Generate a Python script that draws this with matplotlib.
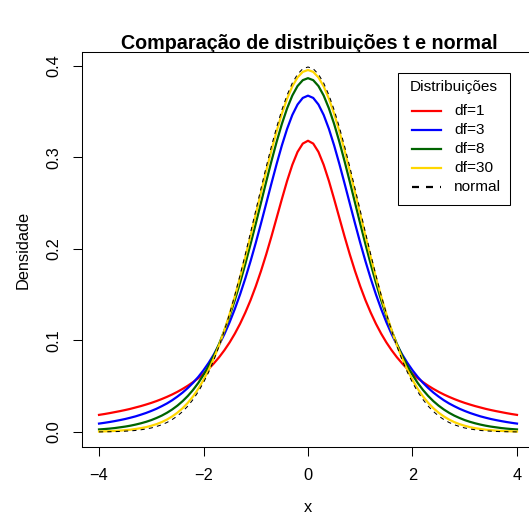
import matplotlib
matplotlib.use("Agg")
import matplotlib.pyplot as plt
from matplotlib.lines import Line2D
from matplotlib.patches import Rectangle

# x grid (-4 .. 4, step 0.1)
x = [-4.0, -3.9, -3.8, -3.7, -3.6, -3.5, -3.4, -3.3, -3.2, -3.1,
     -3.0, -2.9, -2.8, -2.7, -2.6, -2.5, -2.4, -2.3, -2.2, -2.1,
     -2.0, -1.9, -1.8, -1.7, -1.6, -1.5, -1.4, -1.3, -1.2, -1.1,
     -1.0, -0.9, -0.8, -0.7, -0.6, -0.5, -0.4, -0.3, -0.2, -0.1,
     0.0,
     0.1, 0.2, 0.3, 0.4, 0.5, 0.6, 0.7, 0.8, 0.9, 1.0,
     1.1, 1.2, 1.3, 1.4, 1.5, 1.6, 1.7, 1.8, 1.9, 2.0,
     2.1, 2.2, 2.3, 2.4, 2.5, 2.6, 2.7, 2.8, 2.9, 3.0,
     3.1, 3.2, 3.3, 3.4, 3.5, 3.6, 3.7, 3.8, 3.9, 4.0]

df1 = [0.0187, 0.0196, 0.0206, 0.0217, 0.0228, 0.0240, 0.0253, 0.0268, 0.0283, 0.0300,
       0.0318, 0.0338, 0.0360, 0.0384, 0.0410, 0.0439, 0.0471, 0.0506, 0.0545, 0.0588,
       0.0637, 0.0690, 0.0751, 0.0818, 0.0894, 0.0979, 0.1075, 0.1183, 0.1305, 0.1440,
       0.1592, 0.1759, 0.1941, 0.2136, 0.2341, 0.2546, 0.2744, 0.2920, 0.3061, 0.3152,
       0.3183,
       0.3152, 0.3061, 0.2920, 0.2744, 0.2546, 0.2341, 0.2136, 0.1941, 0.1759, 0.1592,
       0.1440, 0.1305, 0.1183, 0.1075, 0.0979, 0.0894, 0.0818, 0.0751, 0.0690, 0.0637,
       0.0588, 0.0545, 0.0506, 0.0471, 0.0439, 0.0410, 0.0384, 0.0360, 0.0338, 0.0318,
       0.0300, 0.0283, 0.0268, 0.0253, 0.0240, 0.0228, 0.0217, 0.0206, 0.0196, 0.0187]

df3 = [0.0092, 0.0100, 0.0109, 0.0119, 0.0130, 0.0142, 0.0156, 0.0171, 0.0189, 0.0208,
       0.0230, 0.0254, 0.0282, 0.0312, 0.0347, 0.0387, 0.0431, 0.0481, 0.0538, 0.0602,
       0.0675, 0.0757, 0.0850, 0.0954, 0.1070, 0.1200, 0.1345, 0.1504, 0.1678, 0.1866,
       0.2067, 0.2279, 0.2497, 0.2716, 0.2930, 0.3132, 0.3313, 0.3465, 0.3579, 0.3651,
       0.3676,
       0.3651, 0.3579, 0.3465, 0.3313, 0.3132, 0.2930, 0.2716, 0.2497, 0.2279, 0.2067,
       0.1866, 0.1678, 0.1504, 0.1345, 0.1200, 0.1070, 0.0954, 0.0850, 0.0757, 0.0675,
       0.0602, 0.0538, 0.0481, 0.0431, 0.0387, 0.0347, 0.0312, 0.0282, 0.0254, 0.0230,
       0.0208, 0.0189, 0.0171, 0.0156, 0.0142, 0.0130, 0.0119, 0.0109, 0.0100, 0.0092]

df8 = [0.0028, 0.0032, 0.0037, 0.0043, 0.0051, 0.0059, 0.0069, 0.0081, 0.0095, 0.0111,
       0.0130, 0.0153, 0.0179, 0.0210, 0.0246, 0.0288, 0.0337, 0.0394, 0.0460, 0.0536,
       0.0624, 0.0724, 0.0837, 0.0965, 0.1109, 0.1268, 0.1442, 0.1632, 0.1836, 0.2052,
       0.2276, 0.2505, 0.2735, 0.2959, 0.3172, 0.3367, 0.3537, 0.3677, 0.3781, 0.3845,
       0.3867,
       0.3845, 0.3781, 0.3677, 0.3537, 0.3367, 0.3172, 0.2959, 0.2735, 0.2505, 0.2276,
       0.2052, 0.1836, 0.1632, 0.1442, 0.1268, 0.1109, 0.0965, 0.0837, 0.0724, 0.0624,
       0.0536, 0.0460, 0.0394, 0.0337, 0.0288, 0.0246, 0.0210, 0.0179, 0.0153, 0.0130,
       0.0111, 0.0095, 0.0081, 0.0069, 0.0059, 0.0051, 0.0043, 0.0037, 0.0032, 0.0028]

df30 = [0.0005, 0.0007, 0.0009, 0.0012, 0.0015, 0.0020, 0.0025, 0.0033, 0.0042, 0.0053,
        0.0068, 0.0086, 0.0108, 0.0136, 0.0170, 0.0211, 0.0260, 0.0319, 0.0389, 0.0472,
        0.0569, 0.0680, 0.0807, 0.0951, 0.1112, 0.1290, 0.1483, 0.1692, 0.1913, 0.2143,
        0.2380, 0.2618, 0.2852, 0.3078, 0.3288, 0.3479, 0.3643, 0.3777, 0.3875, 0.3936,
        0.3956,
        0.3936, 0.3875, 0.3777, 0.3643, 0.3479, 0.3288, 0.3078, 0.2852, 0.2618, 0.2380,
        0.2143, 0.1913, 0.1692, 0.1483, 0.1290, 0.1112, 0.0951, 0.0807, 0.0680, 0.0569,
        0.0472, 0.0389, 0.0319, 0.0260, 0.0211, 0.0170, 0.0136, 0.0108, 0.0086, 0.0068,
        0.0053, 0.0042, 0.0033, 0.0025, 0.0020, 0.0015, 0.0012, 0.0009, 0.0007, 0.0005]

normal = [0.0001, 0.0002, 0.0003, 0.0004, 0.0006, 0.0009, 0.0012, 0.0017, 0.0024, 0.0033,
          0.0044, 0.0060, 0.0079, 0.0104, 0.0136, 0.0175, 0.0224, 0.0283, 0.0355, 0.0440,
          0.0540, 0.0656, 0.0790, 0.0940, 0.1109, 0.1295, 0.1497, 0.1714, 0.1942, 0.2179,
          0.2420, 0.2661, 0.2897, 0.3123, 0.3332, 0.3521, 0.3683, 0.3814, 0.3910, 0.3970,
          0.3989,
          0.3970, 0.3910, 0.3814, 0.3683, 0.3521, 0.3332, 0.3123, 0.2897, 0.2661, 0.2420,
          0.2179, 0.1942, 0.1714, 0.1497, 0.1295, 0.1109, 0.0940, 0.0790, 0.0656, 0.0540,
          0.0440, 0.0355, 0.0283, 0.0224, 0.0175, 0.0136, 0.0104, 0.0079, 0.0060, 0.0044,
          0.0033, 0.0024, 0.0017, 0.0012, 0.0009, 0.0006, 0.0004, 0.0003, 0.0002, 0.0001]

labels = ["df=1", "df=3", "df=8", "df=30", "normal"]
colors = ["#FF0000", "#0000FF", "#006400", "#FFD700", "#000000"]
legend_title = "Distribuições"
x_ticks = [-4, -2, 0, 2, 4]
y_ticks = [0.0, 0.1, 0.2, 0.3, 0.4]
y_ticklabels = ["0.0", "0.1", "0.2", "0.3", "0.4"]

plt.rcParams['font.family'] = ['Liberation Sans', 'DejaVu Sans']
W, H = 529, 520
fig = plt.figure(figsize=(W / 100, H / 100), dpi=100)
L, R, T, B = 82.3, 533.7, 52.4, 446.6
ax = fig.add_axes([L / W, 1 - B / H, (R - L) / W, (B - T) / H])

CURVE_LW = 1.6
for ys, c in zip([df1, df3, df8, df30], colors[:4]):
    ax.plot(x, ys, color=c, lw=CURVE_LW, solid_joinstyle='round')
ax.plot(x, normal, color=colors[4], lw=0.75, ls=(0, (4, 4)))

ax.set_xlim(-4.32, 4.32)
ax.set_ylim(-0.01596, 0.41486)
ax.set_xticks(x_ticks)
ax.set_xticklabels([str(v).replace('-', '\u2212') for v in x_ticks])
ax.set_yticks(y_ticks)
ax.set_yticklabels(y_ticklabels, rotation=90, va='center')
ax.tick_params(axis='both', direction='out', length=6.8, width=0.75, labelsize=11.8, color='black')
ax.tick_params(axis='x', pad=8.5)
ax.tick_params(axis='y', pad=8.5)
for s in ax.spines.values():
    s.set_linewidth(0.75)
    s.set_color('black')

ax.set_xlabel("x", fontsize=11.8, labelpad=12)
ax.set_ylabel("Densidade", fontsize=11.8, labelpad=11)

fig.text(309 / W, 1 - 49 / H, "Comparação de distribuições t e normal",
         ha='center', va='baseline', fontsize=14.2, fontweight='bold')

# legend box drawn in figure pixel coordinates
def fx(px):
    return px / W

def fy(py):
    return 1 - py / H

bx0, by0, bx1, by1 = 398, 73, 510, 205
fig.add_artist(Rectangle((fx(bx0), fy(by1)), fx(bx1) - fx(bx0), fy(by0) - fy(by1),
                         transform=fig.transFigure, facecolor='white', edgecolor='black',
                         lw=0.75, zorder=5))
fig.text(fx(454), fy(87), legend_title, ha='center', va='center', fontsize=11.1, zorder=6)
row_y = [111, 130, 149, 168, 187]
for i, (lab, c) in enumerate(zip(labels, colors)):
    yy = fy(row_y[i])
    ls = '-' if i < 4 else (0, (3.15, 3.15))
    fig.add_artist(Line2D([fx(412), fx(441)], [yy, yy], transform=fig.transFigure,
                          color=c, lw=CURVE_LW, ls=ls, zorder=6))
    fig.text(fx(454), yy, lab, ha='left', va='center', fontsize=11.1, zorder=6)

fig.savefig("out.png", dpi=100)
